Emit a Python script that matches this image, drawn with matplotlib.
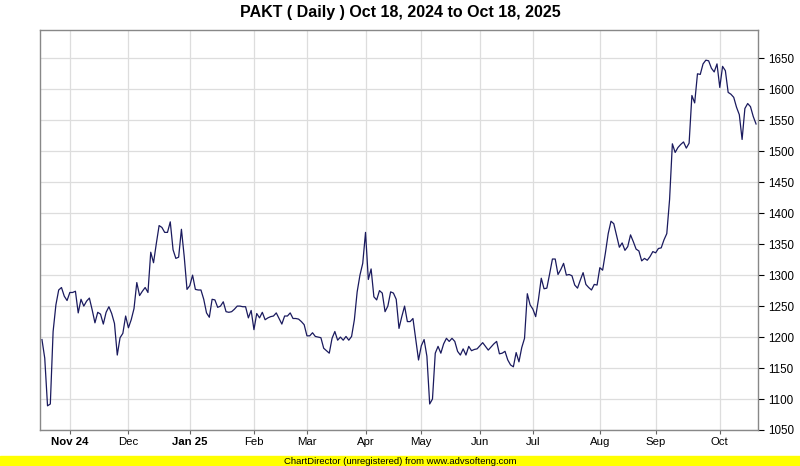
import matplotlib
matplotlib.use("Agg")
import matplotlib.pyplot as plt
import numpy as np

plt.rcParams['font.family'] = ['Liberation Sans', 'DejaVu Sans']

# daily closes, Oct 18 2024 -> Oct 18 2025
close = [
    1196, 1166, 1089, 1092, 1209, 1252, 1276, 1280, 1266, 1259,
    1272, 1272, 1274, 1239, 1261, 1250, 1258, 1263, 1244, 1223,
    1240, 1237, 1221, 1240, 1249, 1238, 1222, 1171, 1199, 1206,
    1234, 1215, 1228, 1246, 1288, 1267, 1274, 1280, 1272, 1337,
    1320, 1351, 1380, 1377, 1369, 1369, 1386, 1341, 1327, 1329,
    1374, 1330, 1277, 1283, 1300, 1277, 1276, 1276, 1261, 1239,
    1232, 1261, 1260, 1248, 1250, 1257, 1241, 1240, 1241, 1245,
    1250, 1250, 1249, 1249, 1231, 1243, 1212, 1238, 1231, 1240,
    1228, 1231, 1233,
    1234, 1239, 1230, 1221, 1234, 1234, 1239, 1230, 1230, 1229,
    1225, 1220, 1202, 1202, 1207, 1201, 1200, 1199, 1182, 1178,
    1174, 1198, 1209, 1195, 1200, 1195, 1201, 1195, 1201, 1228,
    1273, 1300, 1319, 1369, 1293, 1310, 1265, 1260, 1275, 1271,
    1241, 1250, 1273, 1271,
    1261, 1214, 1233, 1250, 1225, 1225, 1230, 1196, 1163, 1186,
    1196, 1169, 1092, 1100, 1174, 1185, 1174, 1189, 1198, 1193,
    1198, 1193, 1177, 1171, 1181, 1171, 1185, 1178, 1180, 1181,
    1186, 1191, 1185, 1179, 1184, 1189, 1193, 1173, 1174, 1177,
    1163, 1155, 1152,
    1175, 1160, 1183, 1198, 1270, 1252, 1245, 1233, 1261, 1295,
    1278, 1279, 1302, 1326, 1326, 1301, 1309, 1319, 1300, 1301,
    1299, 1284, 1279, 1292, 1304, 1285, 1280, 1276, 1285, 1284,
    1312, 1308, 1336, 1367, 1387, 1383, 1364, 1345, 1352, 1340,
    1346,
    1365, 1354, 1342, 1339, 1323, 1327, 1324, 1330, 1338, 1336,
    1343, 1344, 1357, 1367, 1422, 1512, 1498, 1506, 1511, 1515,
    1505, 1513, 1590, 1578, 1625, 1624, 1641, 1647, 1646, 1634,
    1628, 1641, 1603, 1637, 1630, 1595, 1592, 1587, 1571, 1559,
    1519, 1569, 1577, 1572, 1556, 1544,
]

# trading-day index where each month starts
month_idx = [10, 31, 53, 76, 95, 116, 136, 157, 176, 200, 220, 243]
month_lbl = ['Nov 24', 'Dec', 'Jan 25', 'Feb', 'Mar', 'Apr', 'May', 'Jun',
             'Jul', 'Aug', 'Sep', 'Oct']
y_ticks = list(range(1050, 1651, 50))

fig = plt.figure(figsize=(8, 4.66), dpi=100)
ax = fig.add_axes([40 / 800, 36 / 466, 718 / 800, 400 / 466])

x = np.arange(len(close))
ax.plot(x, close, color='#1a1a5e', lw=0.9)

ax.set_xlim(-0.7, len(close) - 0.3)
ax.set_ylim(1050, 1695.7)

ax.set_xticks(month_idx)
ax.set_xticklabels(month_lbl, fontsize=8.2)
for lbl in ax.get_xticklabels():
    if lbl.get_text() in ('Nov 24', 'Jan 25'):
        lbl.set_fontweight('bold')
ax.set_yticks(y_ticks)
ax.yaxis.tick_right()
ax.tick_params(axis='y', labelsize=8.4, length=4, color='#000000', pad=3)
ax.tick_params(axis='x', length=3, color='#666666', pad=2)

ax.grid(True, color='#dddddd', lw=0.9)
ax.set_axisbelow(True)
for s in ax.spines.values():
    s.set_color('#888888')
    s.set_linewidth(1)

fig.text(0.5, 1 - 12 / 466, 'PAKT ( Daily ) Oct 18, 2024 to Oct 18, 2025',
         ha='center', va='center', fontsize=11.5, fontweight='bold')

# yellow footer strip
fig.patches.append(plt.Rectangle((0, 0), 1, 10 / 466, transform=fig.transFigure,
                                 color='#ffff00', zorder=0))
fig.text(0.5, 5 / 466, 'ChartDirector (unregistered) from www.advsofteng.com',
         ha='center', va='center', fontsize=6.8)

fig.savefig('out.png', dpi=100)
